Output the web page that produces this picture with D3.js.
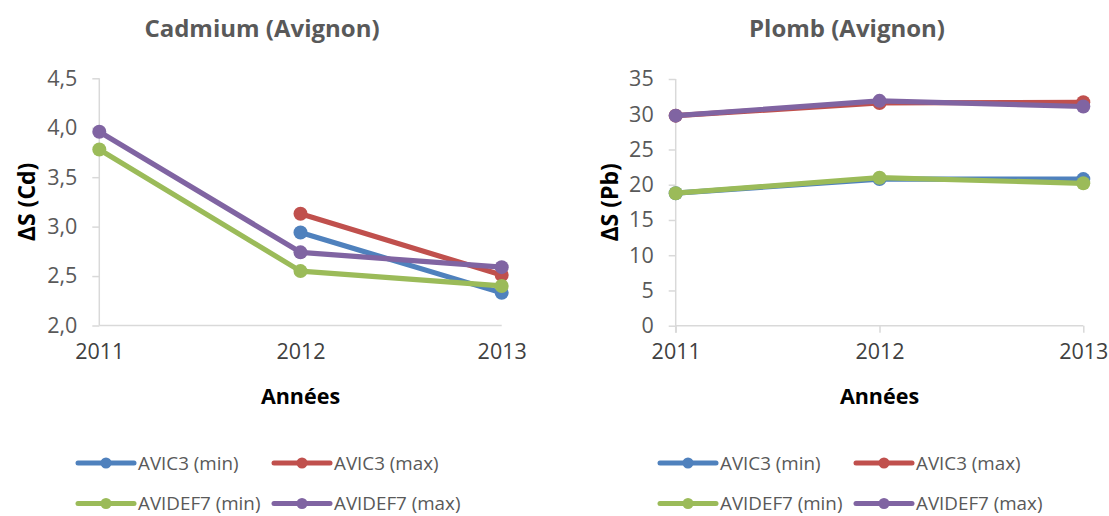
<!DOCTYPE html>
<html>
<head>
<meta charset="utf-8">
<script src="https://cdn.jsdelivr.net/npm/d3@7"></script>
<style>
  html, body { margin: 0; padding: 0; background: #fff; }
  svg { display: block; }
  text { font-family: "Open Sans", sans-serif; }
</style>
</head>
<body>
<svg id="chart" width="1109" height="516"></svg>
<script>
// ---------- DATA ----------
const years = ["2011", "2012", "2013"];
const seriesNames = ["AVIC3 (min)", "AVIC3 (max)", "AVIDEF7 (min)", "AVIDEF7 (max)"];
const seriesColors = ["#4F81BD", "#C0504D", "#9BBB59", "#8064A2"];

// Cadmium (Avignon)
const cdAvic3Min   = [null, 2.94, 2.33];
const cdAvic3Max   = [null, 3.13, 2.51];
const cdAvidef7Min = [3.78, 2.55, 2.40];
const cdAvidef7Max = [3.96, 2.74, 2.59];
const cdTicks = [2.0, 2.5, 3.0, 3.5, 4.0, 4.5];

// Plomb (Avignon)
const pbAvic3Min   = [18.8, 20.8, 20.8];
const pbAvic3Max   = [29.8, 31.6, 31.7];
const pbAvidef7Min = [18.8, 21.0, 20.2];
const pbAvidef7Max = [29.8, 31.9, 31.1];
const pbTicks = [0, 5, 10, 15, 20, 25, 30, 35];

// ---------- DRAW ----------
const svg = d3.select("#chart");
const frLocale = d3.formatLocale({decimal: ",", thousands: " ", grouping: [3], currency: ["", "€"]});

function drawChart(cfg) {
  const g = svg.append("g");
  const x = d3.scalePoint().domain(years).range([cfg.x0, cfg.x1]).padding(0);
  const y = d3.scaleLinear().domain(cfg.domain).range([cfg.yBottom, cfg.yTop]);

  // title
  g.append("text")
    .attr("x", cfg.titleX).attr("y", 37)
    .attr("text-anchor", "middle")
    .attr("font-size", 24).attr("font-weight", "bold")
    .attr("fill", "#595959")
    .text(cfg.title);

  // y axis
  const yAxis = d3.axisLeft(y).tickValues(cfg.ticks).tickSize(7).tickPadding(15)
    .tickFormat(cfg.fmt);
  const yg = g.append("g").attr("transform", `translate(${cfg.x0},0)`).call(yAxis);
  yg.select(".domain").remove();
  yg.selectAll(".tick line").attr("stroke", "#D9D9D9").attr("stroke-width", 1.5);
  yg.selectAll(".tick text").attr("font-size", 21.5).attr("fill", "#595959")
    .attr("font-family", "Open Sans, sans-serif");
  g.append("line")
    .attr("x1", cfg.x0).attr("x2", cfg.x0)
    .attr("y1", y(cfg.domain[1])).attr("y2", y(cfg.domain[0]) + (cfg.xTicks ? 7 : 0))
    .attr("stroke", "#D9D9D9").attr("stroke-width", 1.5);

  // x axis
  const xAxis = d3.axisBottom(x).tickSize(cfg.xTicks ? 7 : 0).tickPadding(cfg.xTicks ? 11 : 18);
  const xg = g.append("g").attr("transform", `translate(0,${cfg.yBottom})`).call(xAxis);
  xg.select(".domain").remove();
  xg.selectAll(".tick line").attr("stroke", "#D9D9D9").attr("stroke-width", 1.5);
  xg.selectAll(".tick text").attr("font-size", 21.5).attr("fill", "#404040")
    .attr("font-family", "Open Sans, sans-serif");
  g.append("line")
    .attr("x1", cfg.x0).attr("x2", cfg.x1)
    .attr("y1", cfg.yBottom).attr("y2", cfg.yBottom)
    .attr("stroke", "#D9D9D9").attr("stroke-width", 1.5);

  // axis titles
  g.append("text")
    .attr("x", (cfg.x0 + cfg.x1) / 2).attr("y", 404)
    .attr("text-anchor", "middle")
    .attr("font-size", 21.5).attr("font-weight", "bold").attr("fill", "#000")
    .text("Années");
  g.append("text")
    .attr("transform", `translate(${cfg.yTitleX},${(cfg.yTop + cfg.yBottom) / 2}) rotate(-90)`)
    .attr("text-anchor", "middle")
    .attr("font-size", 23).attr("font-weight", "bold").attr("fill", "#000")
    .text(cfg.yTitle);

  // series
  const line = d3.line()
    .defined(d => d.v !== null)
    .x(d => x(d.year)).y(d => y(d.v));
  cfg.series.forEach((vals, i) => {
    const pts = years.map((yr, k) => ({year: yr, v: vals[k]}));
    g.append("path").datum(pts)
      .attr("d", line)
      .attr("fill", "none")
      .attr("stroke", seriesColors[i])
      .attr("stroke-width", 5.2)
      .attr("stroke-linejoin", "round")
      .attr("stroke-linecap", "round");
    g.selectAll(null).data(pts.filter(d => d.v !== null)).enter()
      .append("circle")
      .attr("cx", d => x(d.year)).attr("cy", d => y(d.v))
      .attr("r", 7)
      .attr("fill", seriesColors[i]);
  });

  // legend
  const rows = [463, 503.5];
  seriesNames.forEach((name, i) => {
    const lx = cfg.legendCols[i % 2];
    const ly = rows[Math.floor(i / 2)];
    const lg = g.append("g").attr("transform", `translate(${lx},${ly})`);
    lg.append("line").attr("x1", 0).attr("x2", 56).attr("y1", 0).attr("y2", 0)
      .attr("stroke", seriesColors[i]).attr("stroke-width", 5).attr("stroke-linecap", "round");
    lg.append("circle").attr("cx", 28).attr("cy", 0).attr("r", 5.5).attr("fill", seriesColors[i]);
    lg.append("text").attr("x", 60).attr("y", 6.5)
      .attr("font-size", 18.8).attr("fill", "#595959")
      .text(name);
  });
}

drawChart({
  title: "Cadmium (Avignon)", titleX: 262,
  yTitle: "ΔS (Cd)", yTitleX: 35,
  x0: 99.3, x1: 501.7, yTop: 78.3, yBottom: 325.5,
  domain: [2.0, 4.5], ticks: cdTicks, fmt: frLocale.format(".1f"),
  xTicks: false,
  series: [cdAvic3Min, cdAvic3Max, cdAvidef7Min, cdAvidef7Max],
  legendCols: [78, 274]
});

drawChart({
  title: "Plomb (Avignon)", titleX: 847,
  yTitle: "ΔS (Pb)", yTitleX: 618,
  x0: 675.7, x1: 1083.3, yTop: 79, yBottom: 325.7,
  domain: [0, 35], ticks: pbTicks, fmt: frLocale.format("d"),
  xTicks: true,
  series: [pbAvic3Min, pbAvic3Max, pbAvidef7Min, pbAvidef7Max],
  legendCols: [660, 856]
});
</script>
</body>
</html>
